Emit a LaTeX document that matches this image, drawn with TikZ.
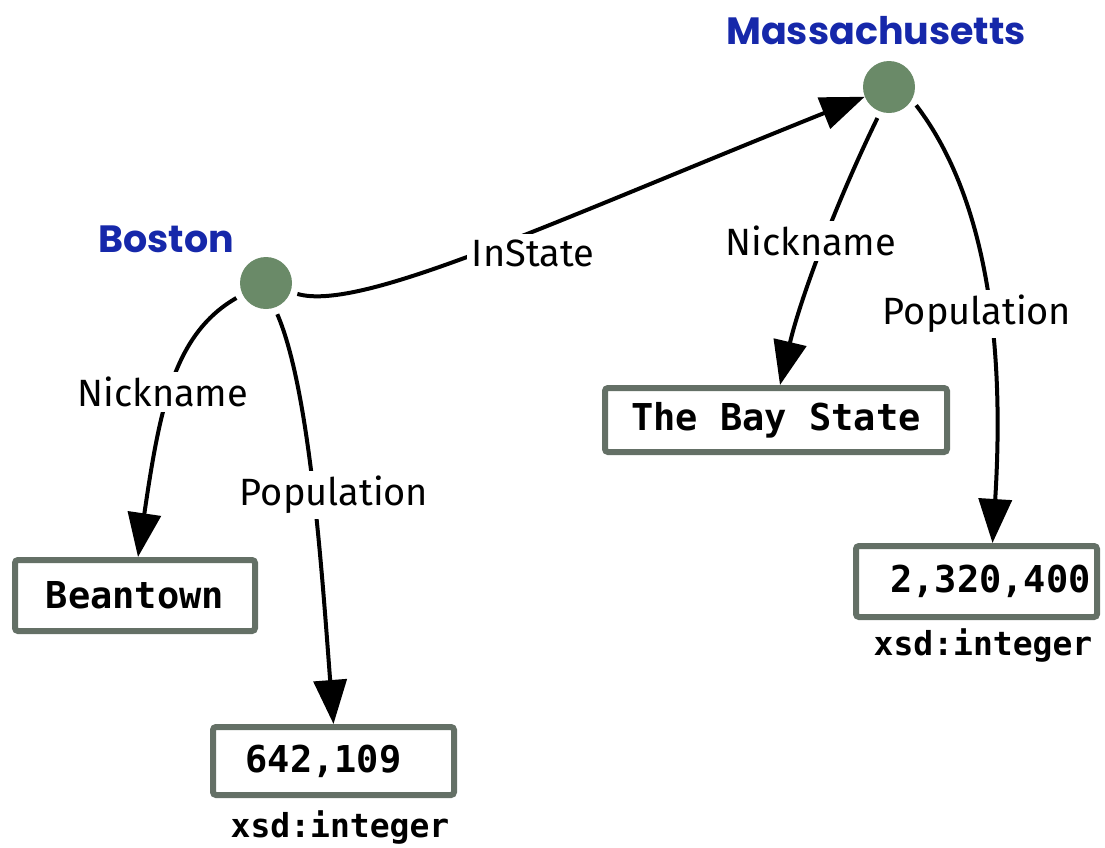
\documentclass[tikz,border=0pt]{standalone}
\usepackage{fontspec}
\setmainfont{Fira Sans}
\newfontfamily\titlefont{Poppins}
\newfontfamily\codefont{DejaVu Sans Mono}
\usetikzlibrary{arrows.meta}

\definecolor{nodegreen}{RGB}{106,138,104}
\definecolor{boxgray}{RGB}{100,112,102}
\definecolor{titleblue}{RGB}{22,40,170}

\tikzset{
  resource/.style={circle, fill=nodegreen, minimum size=52pt, inner sep=0pt},
  title/.style={text=titleblue, inner sep=0pt,
    font=\titlefont\bfseries\fontsize{38}{42}\selectfont},
  literal/.style={draw=boxgray, line width=6pt, rounded corners=3pt, fill=white,
    inner sep=0pt, font=\codefont\bfseries\fontsize{37}{40}\selectfont},
  dtype/.style={inner sep=0pt, font=\codefont\bfseries\fontsize{33}{36}\selectfont},
  prop/.style={line width=4pt, -{Triangle[length=44pt,width=33pt]}},
  elabel/.style={fill=white, inner sep=5pt, font=\fontsize{38}{42}\selectfont},
}

\begin{document}
\begin{tikzpicture}[x=1pt,y=-1pt]
\useasboundingbox (0,0) rectangle (1105,847);

% resources
\node[resource] (boston) at (266,283) {};
\node[resource] (mass) at (889,87) {};
\node[title] (bostonname) at (166,239) {Boston};
\node[title] (massname) at (876,31) {Massachusetts};

% literal values
\node[literal, minimum width=240pt, minimum height=71pt] (beantown) at (135,595.5) {Beantown};
\node[literal, minimum width=241pt, minimum height=68pt] (bospop) at (333.5,761) {642,109\kern20pt};
\node[dtype] (bostype) at (340,827) {xsd:integer};
\node[literal, minimum width=342pt, minimum height=64pt] (baystate) at (776,420) {The Bay State};
\node[literal, minimum width=241pt, minimum height=71pt] (masspop) at (976.5,581.5) {\kern28pt2,320,400};
\node[dtype] (masstype) at (983,645) {xsd:integer};

% properties
\draw[prop, shorten <=7pt] (boston.206) .. controls (174,334) and (160,407) .. ([xshift=3pt]beantown.north);
\draw[prop, shorten <=7pt] (boston.289) .. controls (310,390) and (322,574) .. (bospop.north);
\draw[prop, shorten <=7pt] (boston.-20) .. controls (360,312) and (543,226) .. (mass);
\draw[prop, shorten <=7pt] (mass.251) .. controls (835,205) and (800,300) .. ([xshift=4pt]baystate.north);
\draw[prop, shorten <=7pt] (mass.331) .. controls (1000,215) and (1002,390) .. ([xshift=16pt]masspop.north);

% property names
\node[elabel] (nick1) at (163,392) {Nickname};
\node[elabel] (pop1) at (334,495) {Population};
\node[elabel] (instate) at (533,253) {InState};
\node[elabel] (nick2) at (811,241) {Nickname};
\node[elabel] (pop2) at (977,314) {Population};
\end{tikzpicture}
\end{document}
